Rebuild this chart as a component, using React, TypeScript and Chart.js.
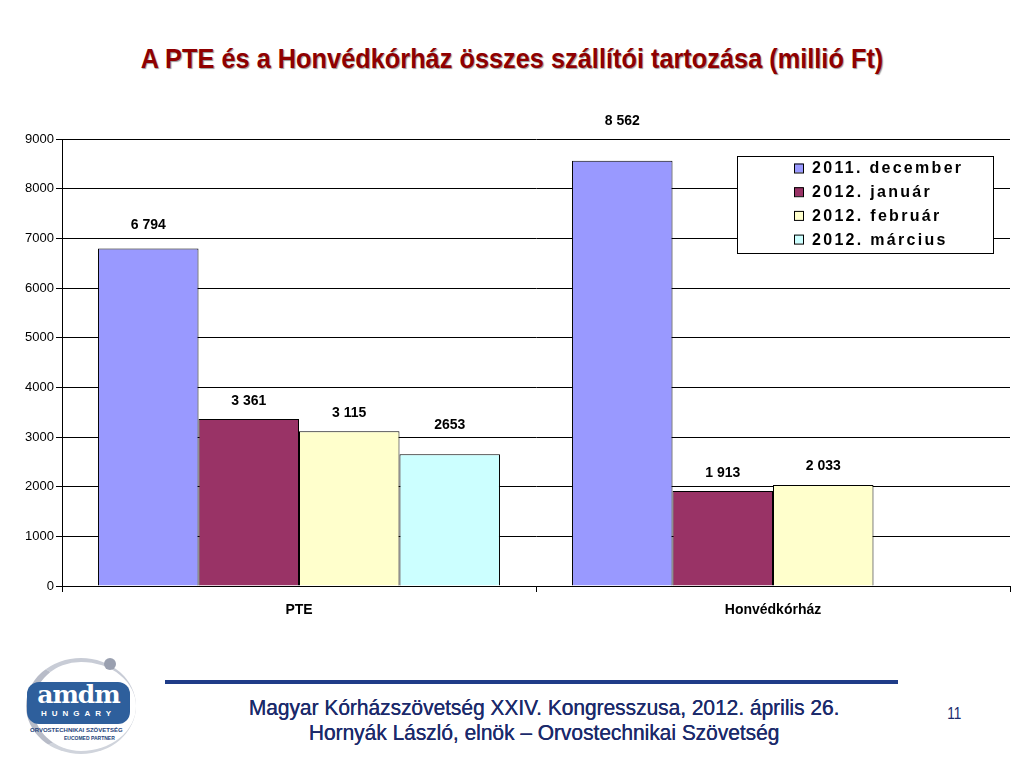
import React, { useEffect, useRef } from "react";
import { Chart, registerables } from "chart.js";

Chart.register(...registerables);

const categories = ["PTE", "Honvédkórház"];
const seriesNames = ["2011. december", "2012. január", "2012. február", "2012. március"];
const dec2011 = [6794, 8562];
const jan2012 = [3361, 1913];
const feb2012 = [3115, 2033];
const mar2012 = [2653, null];
const labelsDec = ["6 794", "8 562"];
const labelsJan = ["3 361", "1 913"];
const labelsFeb = ["3 115", "2 033"];
const labelsMar = ["2653", ""];
const yTicks = [0, 1000, 2000, 3000, 4000, 5000, 6000, 7000, 8000, 9000];

const colors = ["#9999FF", "#993366", "#FFFFCC", "#CCFFFF"];
// vertical distance (px) of each value label centre above its bar top
const labelLift = [
  [23, 40],
  [18, 18],
  [18, 19],
  [29, 0],
];

const FONT = "'Liberation Sans', Arial, sans-serif";

const valueLabelPlugin = {
  id: "valueLabels",
  afterDatasetsDraw(chart: any) {
    const ctx = chart.ctx;
    const all = [labelsDec, labelsJan, labelsFeb, labelsMar];
    ctx.save();
    ctx.font = `bold 14px ${FONT}`;
    ctx.fillStyle = "#000";
    ctx.textAlign = "center";
    ctx.textBaseline = "middle";
    all.forEach((labs, i) => {
      const meta = chart.getDatasetMeta(i);
      meta.data.forEach((el: any, j: number) => {
        const t = labs[j];
        if (!t) return;
        ctx.fillText(t, el.x, el.y - labelLift[i][j]);
      });
    });
    ctx.restore();
  },
};

const legendPlugin = {
  id: "boxLegend",
  afterDraw(chart: any) {
    const ctx = chart.ctx;
    const a = chart.chartArea;
    const x = a.right - 273;
    const y = a.top + 17;
    const w = 256;
    const h = 97;
    ctx.save();
    ctx.fillStyle = "#fff";
    ctx.fillRect(x, y, w, h);
    ctx.strokeStyle = "#000";
    ctx.lineWidth = 1;
    ctx.strokeRect(x + 0.5, y + 0.5, w, h);
    ctx.font = `bold 16px ${FONT}`;
    (ctx as any).letterSpacing = "2.3px";
    ctx.textBaseline = "middle";
    ctx.textAlign = "left";
    seriesNames.forEach((n, i) => {
      const cy = y + 12 + i * 23.7;
      ctx.fillStyle = colors[i];
      ctx.fillRect(x + 57, cy - 4.5, 9, 9);
      ctx.strokeStyle = "#000";
      ctx.strokeRect(x + 57.5, cy - 4, 9, 9);
      ctx.fillStyle = "#000";
      ctx.fillText(n, x + 75, cy + 1);
    });
    ctx.restore();
  },
};

function ChartBox() {
  const ref = useRef<HTMLCanvasElement>(null);
  useEffect(() => {
    const data = [dec2011, jan2012, feb2012, mar2012];
    const chart = new Chart(ref.current as HTMLCanvasElement, {
      type: "bar",
      data: {
        labels: categories,
        datasets: seriesNames.map((n, i) => ({
          label: n,
          data: data[i] as any,
          backgroundColor: colors[i],
          borderColor: "#000",
          borderWidth: 1,
          categoryPercentage: 0.848,
          barPercentage: 1,
        })),
      },
      options: {
        animation: false,
        responsive: false,
        devicePixelRatio: 1,
        layout: { padding: { top: 39, right: 14, left: 0, bottom: 0 } },
        plugins: { legend: { display: false }, tooltip: { enabled: false } },
        scales: {
          x: {
            grid: { drawOnChartArea: false, drawTicks: true, tickLength: 6, color: "#000", offset: true },
            border: { display: true, color: "#000", width: 1 },
            ticks: {
              color: "#000",
              font: { family: FONT, size: 14, weight: "bold" },
              padding: 10,
            },
            afterFit(scale: any) {
              scale.height = 54;
            },
          },
          y: {
            min: 0,
            max: 9000,
            afterBuildTicks(scale: any) {
              scale.ticks = yTicks.map((v) => ({ value: v }));
            },
            grid: { color: "#000", drawTicks: true, tickLength: 6 },
            border: { display: true, color: "#000", width: 1 },
            ticks: {
              color: "#000",
              font: { family: FONT, size: 13 },
              padding: 2,
              callback: (v: any) => String(v),
            },
            afterFit(scale: any) {
              scale.width = 62;
            },
          },
        },
      },
      plugins: [valueLabelPlugin, legendPlugin],
    });
    return () => chart.destroy();
  }, []);
  return <canvas ref={ref} width={1024} height={540} style={{ position: "absolute", left: 0, top: 100 }} />;
}

function Logo() {
  return (
    <div style={{ position: "absolute", left: 22, top: 655, width: 115, height: 100 }}>
      <div
        style={{
          position: "absolute",
          left: 4,
          top: 3,
          width: 110,
          height: 96,
          borderRadius: "50%",
          borderLeft: "7px solid #b8bcc8",
          borderTop: "4px solid #c8ccd6",
          borderRight: "0 solid transparent",
          borderBottom: "3px solid #d0d4dc",
          boxSizing: "border-box",
        }}
      />
      <div style={{ position: "absolute", left: 82, top: 3, width: 12, height: 12, borderRadius: "50%", background: "#9aa0b0" }} />
      <div
        style={{
          position: "absolute",
          left: 5,
          top: 27,
          width: 103,
          height: 42,
          background: "#2e5f9c",
          borderRadius: 12,
          color: "#fff",
          textAlign: "center",
        }}
      >
        <div style={{ font: "bold 25px 'DejaVu Serif', serif", lineHeight: "26px", letterSpacing: "-1px" }}>amdm</div>
        <div style={{ font: "bold 8px 'Liberation Sans', Arial", letterSpacing: "5px", lineHeight: "12px" }}>HUNGARY</div>
      </div>
      <div style={{ position: "absolute", left: 8, top: 72, font: "bold 6px 'Liberation Sans', Arial", color: "#1e3f7a", whiteSpace: "nowrap" }}>
        ORVOSTECHNIKAI SZÖVETSÉG
      </div>
      <div style={{ position: "absolute", left: 42, top: 80, font: "bold 5px 'Liberation Sans', Arial", color: "#1e3f7a", whiteSpace: "nowrap" }}>
        EUCOMED PARTNER
      </div>
    </div>
  );
}

export default function App() {
  return (
    <div style={{ position: "absolute", left: 0, top: 0, width: 1024, height: 768, background: "#fff", overflow: "hidden" }}>
      <div
        style={{
          position: "absolute",
          left: 0,
          top: 42,
          width: 1024,
          textAlign: "center",
          font: `bold 28px ${FONT}`,
          color: "#8f0000",
          textShadow: "1px 1px 1px #9a9a9a",
          lineHeight: "34px",
          transform: "scaleX(0.905)",
          transformOrigin: "512px 0",
          whiteSpace: "nowrap",
        }}
      >
        A PTE és a Honvédkórház összes szállítói tartozása (millió Ft)
      </div>
      <ChartBox />
      <div style={{ position: "absolute", left: 165, top: 680, width: 733, height: 4, background: "#1f3c88" }} />
      <div
        style={{
          position: "absolute",
          left: 144,
          top: 695,
          width: 800,
          textAlign: "center",
          font: `22px ${FONT}`,
          color: "#1b2a6b",
          lineHeight: "25px",
          transform: "scaleX(0.95)",
          transformOrigin: "400px 0",
          whiteSpace: "nowrap",
          textShadow: "0.3px 0 0 #1b2a6b",
        }}
      >
        <div>Magyar Kórházszövetség XXIV. Kongresszusa, 2012. április 26.</div>
        <div>Hornyák László, elnök – Orvostechnikai Szövetség</div>
      </div>
      <div style={{ position: "absolute", left: 946, top: 705, font: `16px ${FONT}`, color: "#1b2a6b", transform: "scaleX(0.85)" }}>11</div>
      <Logo />
    </div>
  );
}
